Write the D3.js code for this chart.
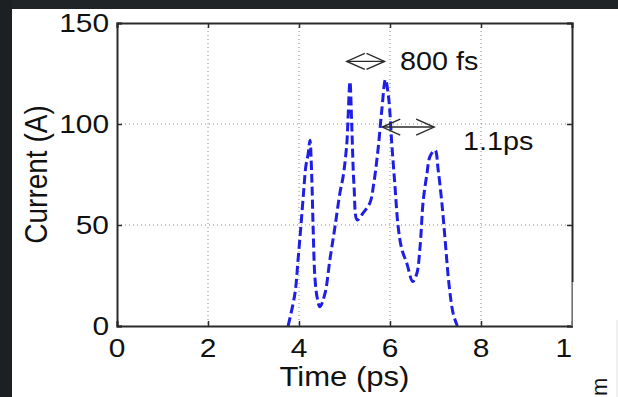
<!DOCTYPE html>
<html>
<head>
<meta charset="utf-8">
<script src="https://cdn.jsdelivr.net/npm/d3@7"></script>
<style>
  html, body { margin: 0; padding: 0; background: #fff; }
  svg { display: block; }
  text { font-family: "Liberation Sans", Arial, Helvetica, sans-serif; fill: #111; }
</style>
</head>
<body>
<svg id="chart" width="618" height="397"></svg>
<script>
// Beam current profile (Time in ps, Current in A)
const timePs = [3.76, 3.91, 3.98, 4.04, 4.10, 4.15, 4.20, 4.24, 4.28, 4.31, 4.35, 4.40, 4.46,
  4.57, 4.68, 4.79, 4.90, 4.97, 5.05, 5.08, 5.12, 5.16, 5.21, 5.28, 5.41, 5.56, 5.64, 5.74,
  5.82, 5.90, 5.97, 6.04, 6.11, 6.18, 6.26, 6.37, 6.50, 6.59, 6.66, 6.73, 6.81, 6.88, 6.99,
  7.06, 7.14, 7.21, 7.30, 7.39, 7.48];
const currentA = [0, 16, 33, 49, 66, 79, 85, 92, 74, 49, 24, 14, 9.5,
  16, 33, 49, 66, 74, 90, 104, 121, 99, 69, 52.5, 56, 61, 70, 88,
  107, 122, 113, 90, 69, 49, 38, 31, 22, 26, 39, 62, 75, 84, 87,
  77, 61, 43, 20, 6, 0];

const xTicks = [0, 2, 4, 6, 8, 10];
const yTicks = [0, 50, 100, 150];
const xGrid = [2, 4, 6, 8];
const yGrid = [50, 100];

// Pulse-width annotations: [start ps, end ps, current A, label]
const widthNotes = [
  { t0: 5.05, t1: 5.88, y: 131, label: "800 fs", lx: 400, ly: 70 },
  { t0: 5.83, t1: 6.97, y: 98.5, label: "1.1ps", lx: 463, ly: 150 }
];

const svg = d3.select("#chart");
const W = 618, H = 397;
const plotL = 117, plotR = 572, plotT = 23, plotB = 326;
const stretch = 1.15;

const x = d3.scaleLinear().domain([0, 10]).range([plotL, plotR]);
const y = d3.scaleLinear().domain([0, 150]).range([plotB, plotT]);

// slide backdrop: dark frame on the top and left edges
svg.append("rect").attr("width", W).attr("height", H).attr("fill", "#fff");
svg.append("rect").attr("x", 0).attr("y", 0).attr("width", W).attr("height", 9).attr("fill", "#212427");
svg.append("rect").attr("x", 0).attr("y", 0).attr("width", 12).attr("height", H).attr("fill", "#1d2023");

// dotted grid
const grid = svg.append("g").attr("stroke", "#8a8a8a").attr("stroke-width", 1).attr("stroke-dasharray", "1,3");
grid.selectAll("line.gx").data(xGrid).join("line").attr("class", "gx")
  .attr("x1", d => x(d)).attr("x2", d => x(d)).attr("y1", plotT).attr("y2", plotB);
grid.selectAll("line.gy").data(yGrid).join("line").attr("class", "gy")
  .attr("x1", plotL).attr("x2", plotR).attr("y1", d => y(d)).attr("y2", d => y(d));

// current trace
const line = d3.line().x((d, i) => x(timePs[i])).y(d => y(d)).curve(d3.curveCatmullRom.alpha(0.5));
svg.append("path")
  .attr("d", line(currentA))
  .attr("fill", "none")
  .attr("stroke", "#1e1ee6")
  .attr("stroke-width", 3)
  .attr("stroke-dasharray", "9,4");

// axes box with inward ticks on all four sides
const axisColor = "#2a2a2a";
const axB = d3.axisBottom(x).tickValues(xTicks).tickSize(-5).tickFormat("");
const axT = d3.axisTop(x).tickValues(xTicks).tickSize(-5).tickFormat("");
const axL = d3.axisLeft(y).tickValues(yTicks).tickSize(-5).tickFormat("");
const axR = d3.axisRight(y).tickValues(yTicks).tickSize(-5).tickFormat("");
[[axB, `translate(0,${plotB})`], [axT, `translate(0,${plotT})`],
 [axL, `translate(${plotL},0)`], [axR, `translate(${plotR},0)`]].forEach(([ax, tr]) => {
  const g = svg.append("g").attr("transform", tr).call(ax);
  g.select(".domain").attr("stroke", axisColor).attr("stroke-width", 2);
  g.selectAll(".tick line").attr("stroke", axisColor).attr("stroke-width", 1.5);
});

// horizontally stretched text helper
function label(xp, yp, str, size, anchor) {
  const g = svg.append("g").attr("transform", `translate(${xp},${yp}) scale(${stretch},1)`);
  return g.append("text").attr("x", 0).attr("y", 0)
    .attr("font-size", size).attr("text-anchor", anchor).text(str);
}

xTicks.forEach(d => label(x(d), 357, d, 26, "middle"));
yTicks.forEach(d => label(plotL - 8, y(d) + 9, d, 26, "end"));

label((plotL + plotR) / 2, 386, "Time (ps)", 27, "middle");
// rotated y label, glyphs widened across the reading direction
{
  const g = svg.append("g").attr("transform", `translate(47,${(plotT + plotB) / 2}) rotate(-90) scale(1,${stretch})`);
  g.append("text").attr("font-size", 28).attr("text-anchor", "middle").text("Current (A)");
}

// pulse width arrows and labels
const arrowColor = "#2b2b2b";
widthNotes.forEach(n => {
  const x0 = x(n.t0), x1 = x(n.t1), yy = y(n.y);
  const head = Math.min(18, (x1 - x0) / 2), hh = 8;
  const g = svg.append("g").attr("fill", "none").attr("stroke", arrowColor).attr("stroke-width", 1.4);
  g.append("line").attr("x1", x0).attr("x2", x1).attr("y1", yy).attr("y2", yy);
  g.append("path").attr("d", `M${x0 + head},${yy - hh}L${x0},${yy}L${x0 + head},${yy + hh}`);
  g.append("path").attr("d", `M${x1 - head},${yy - hh}L${x1},${yy}L${x1 - head},${yy + hh}`);
  label(n.lx, n.ly, n.label, 25, "start");
});

// lower-right corner of the slide: blank panel over the frame edge
svg.append("rect").attr("x", 573).attr("y", 282).attr("width", 40).attr("height", H - 282).attr("fill", "#fff");
svg.append("line").attr("x1", 572).attr("x2", 572).attr("y1", 282).attr("y2", plotB)
  .attr("stroke", "#bdbdbd").attr("stroke-width", 1);
svg.append("line").attr("x1", 617).attr("x2", 617).attr("y1", 320).attr("y2", H)
  .attr("stroke", "#e2e2e2").attr("stroke-width", 1);
svg.append("g").attr("transform", "translate(607,396) rotate(-90)")
  .append("text").attr("font-size", 22).attr("text-anchor", "start").text("m");
</script>
</body>
</html>
